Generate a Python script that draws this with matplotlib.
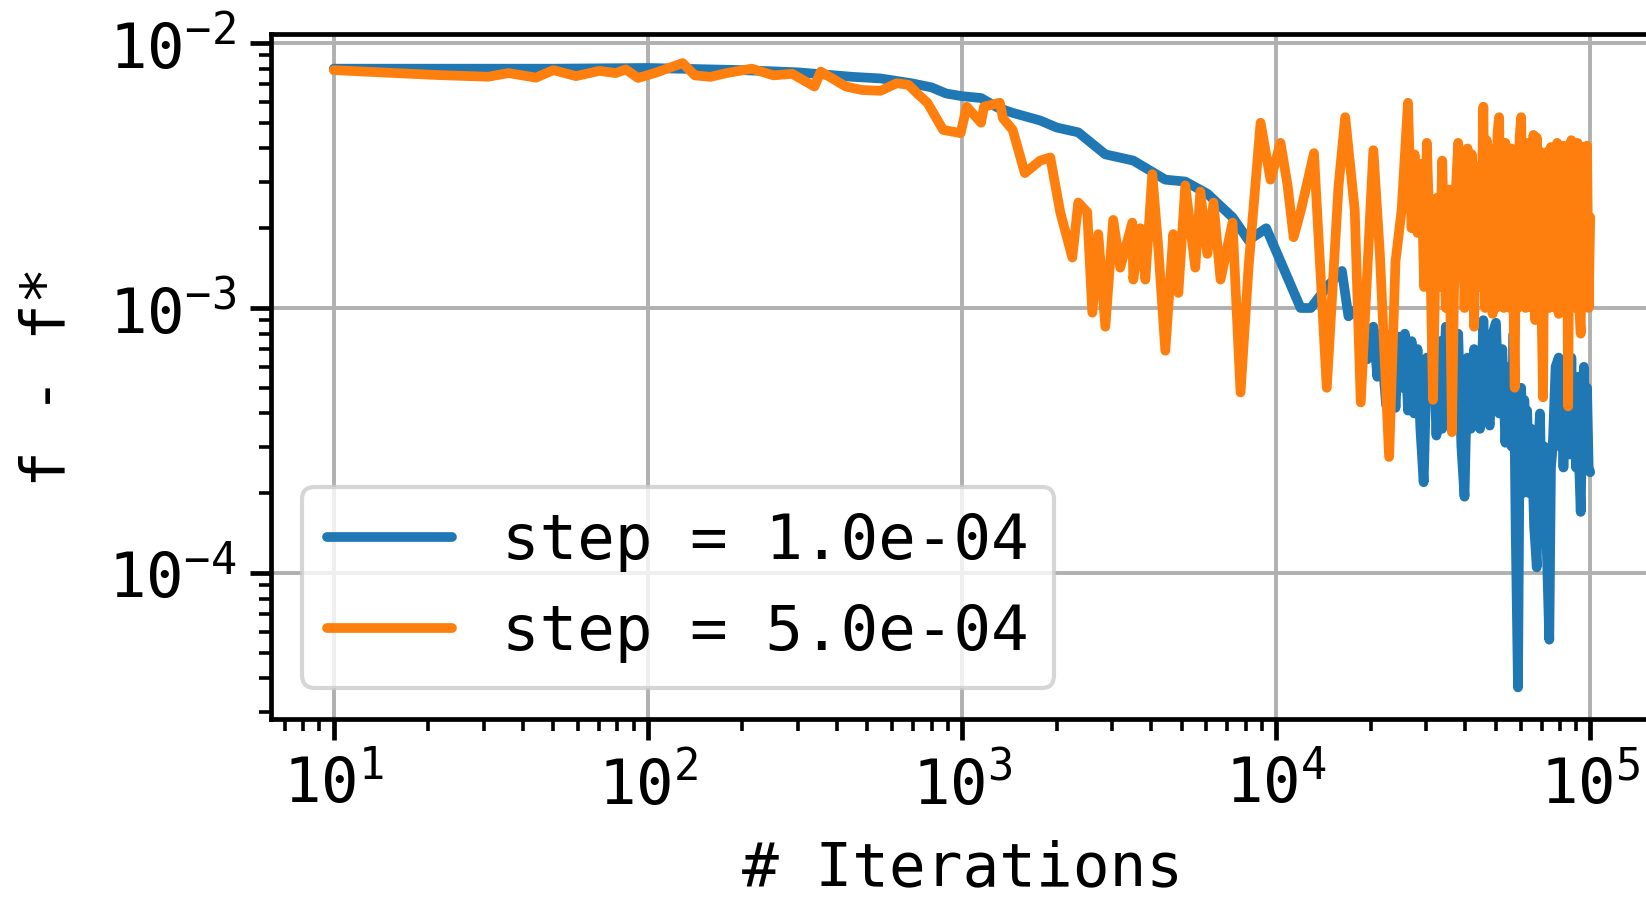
import numpy as np
import matplotlib
matplotlib.use("Agg")
import matplotlib.pyplot as plt

# ---------------------------------------------------------------------------
# data (iteration, f - f*)
# ---------------------------------------------------------------------------
blue_label = "step = 1.0e-04"
blue_x = [10, 20, 50, 100, 200, 300, 450, 550, 690, 800, 890, 1000, 1150,
          1300, 1450, 1774, 2000, 2345, 2860, 3510, 4440, 5140, 6040, 7265,
          8170, 9300, 10330, 11970, 12900, 14500, 16200, 17000, 18200,
          19500, 20400, 21000, 21500, 22400, 23300, 24000, 24600, 25100,
          25700, 26300, 27000, 27500, 28200, 28800, 29500, 30200, 31000,
          31600, 32400, 33100, 33800, 34700, 35500, 36300, 37200, 38000,
          38900, 39800, 40700, 41700, 42700, 43600, 44600, 45700, 46800,
          47900, 48900, 50100, 51300, 52500, 53700, 55000, 56200, 57000,
          57900, 58900, 59600, 60300, 61000, 61700, 62300, 63000, 64000,
          65000, 66300, 67600, 68400, 69200, 70300, 71500, 72800, 74100,
          75000, 76000, 77600, 79400, 80300, 81300, 82200, 83200, 84100,
          85100, 86100, 87100, 88100, 89100, 90100, 91200, 92300, 93300,
          94400, 95500, 96600, 97700, 98900, 100000]
blue_y = [8.0e-3, 8.0e-3, 8.0e-3, 8.05e-3, 7.9e-3, 7.75e-3, 7.45e-3, 7.35e-3,
          7.05e-3, 6.8e-3, 6.45e-3, 6.3e-3, 6.2e-3, 5.7e-3, 5.45e-3, 5.1e-3,
          4.8e-3, 4.6e-3, 3.8e-3, 3.6e-3, 3.05e-3, 3.0e-3, 2.7e-3, 2.2e-3,
          1.8e-3, 2.0e-3, 1.5e-3, 1.0e-3, 1.0e-3, 1.2e-3, 1.38e-3, 9.3e-4,
          1.0e-3, 6.4e-4, 8.5e-4, 5.5e-4, 8.0e-4, 4.3e-4, 8.0e-4, 4.2e-4,
          7.8e-4, 5.0e-4, 8.0e-4, 4.1e-4, 7.5e-4, 4.0e-4, 7.0e-4, 3.5e-4,
          2.2e-4, 6.5e-4, 4.8e-4, 8.0e-4, 3.3e-4, 7.5e-4, 3.5e-4, 8.5e-4,
          5.0e-4, 8.0e-4, 4.5e-4, 8.0e-4, 3.0e-4, 1.94e-4, 6.5e-4, 3.5e-4,
          7.0e-4, 5.8e-4, 3.5e-4, 9.0e-4, 4.0e-4, 3.6e-4, 8.0e-4, 8.8e-4,
          4.0e-4, 7.0e-4, 3.1e-4, 6.0e-4, 3.0e-4, 8.0e-4, 1.5e-4, 3.7e-5,
          3.0e-4, 5.0e-4, 2.0e-4, 4.5e-4, 2.5e-4, 4.1e-4, 2.0e-4, 3.5e-4,
          1.5e-4, 1.05e-4, 3.0e-4, 4.0e-4, 1.5e-4, 3.0e-4, 1.2e-4, 5.6e-5,
          2.5e-4, 3.0e-4, 6.0e-4, 6.5e-4, 3.0e-4, 5.0e-4, 2.5e-4, 5.5e-4,
          3.0e-4, 6.5e-4, 2.8e-4, 6.5e-4, 3.0e-4, 5.5e-4, 2.5e-4, 5.5e-4,
          2.5e-4, 1.7e-4, 4.5e-4, 6.0e-4, 3.0e-4, 5.0e-4, 2.5e-4, 2.4e-4]

orange_label = "step = 5.0e-04"
orange_x = [10, 21.4, 31, 36, 44, 50, 59, 70, 79, 85, 93, 105, 129, 141, 158,
            178, 214, 251, 288, 339, 355, 427, 479, 550, 620, 676, 720, 776,
            871, 990, 1035, 1150, 1175, 1320, 1350, 1450, 1585, 1774, 1910,
            2055, 2245, 2345, 2505, 2600, 2716, 2860, 3030, 3190, 3485, 3510,
            3695, 3835, 4035, 4215, 4440, 4705, 4885, 5140, 5530, 5740, 6040,
            6320, 6655, 7265, 7705, 8170, 8925, 9600, 10330, 10880, 11370,
            12000, 13200, 14500, 15800, 16600, 17800, 18600, 20400, 21400,
            22900, 24000, 25100, 26300, 27000, 27600, 28200, 29000, 29600,
            30200, 31000, 31600, 32400, 33100, 33800, 34700, 35500, 36300,
            37200, 38000, 38500, 39000, 39800, 40700, 41500, 42000, 42700,
            43600, 44600, 45700, 46300, 46800, 47900, 48400, 48900, 49500,
            50100, 50700, 51300, 51900, 52500, 53100, 53700, 54300, 55000,
            55600, 56200, 56800, 57500, 58200, 58900, 59600, 60300, 61000,
            61700, 62300, 63000, 63800, 64600, 65300, 66000, 66800, 67600,
            68400, 69200, 70000, 70800, 71600, 72500, 73300, 74100, 75000,
            75800, 76700, 77600, 78500, 79400, 80300, 81300, 82200, 83200,
            84100, 85100, 86000, 87100, 88100, 89100, 90100, 91200, 92300,
            93300, 94400, 95500, 96600, 97700, 98900, 100000]
orange_y = [7.9e-3, 7.57e-3, 7.46e-3, 7.7e-3, 7.4e-3, 7.9e-3, 7.5e-3, 7.85e-3,
            7.7e-3, 7.95e-3, 7.38e-3, 7.7e-3, 8.4e-3, 7.55e-3, 7.45e-3, 7.7e-3,
            8.0e-3, 7.55e-3, 7.65e-3, 6.85e-3, 7.8e-3, 6.85e-3, 6.65e-3,
            6.6e-3, 7.05e-3, 6.95e-3, 6.45e-3, 5.95e-3, 4.7e-3, 4.57e-3,
            5.75e-3, 5.0e-3, 5.75e-3, 5.95e-3, 5.2e-3, 4.7e-3, 3.23e-3,
            3.6e-3, 3.7e-3, 2.3e-3, 1.55e-3, 2.5e-3, 2.3e-3, 9.6e-4, 1.9e-3,
            8.5e-4, 2.15e-3, 1.42e-3, 2.1e-3, 1.28e-3, 2.0e-3, 1.28e-3, 3.2e-3,
            1.7e-3, 6.9e-4, 1.9e-3, 1.14e-3, 2.9e-3, 1.42e-3, 2.75e-3, 1.6e-3,
            2.5e-3, 1.28e-3, 2.1e-3, 4.8e-4, 1.42e-3, 5.0e-3, 3.05e-3, 4.2e-3,
            2.9e-3, 1.85e-3, 2.34e-3, 3.84e-3, 5.0e-4, 2.87e-3, 5.25e-3,
            2.34e-3, 4.4e-4, 3.94e-3, 1.6e-3, 2.74e-4, 1.5e-3, 2.34e-3,
            5.95e-3, 2.0e-3, 3.8e-3, 1.92e-3, 3.5e-3, 1.2e-3, 4.2e-3, 1.5e-3,
            4.5e-4, 2.6e-3, 1.2e-3, 3.6e-3, 1.0e-3, 2.8e-3, 3.4e-4, 2.5e-3,
            4.2e-3, 1.3e-3, 3.9e-3, 1.0e-3, 4.0e-3, 1.1e-3, 3.8e-3, 8.5e-4,
            3.4e-3, 1.2e-3, 5.75e-3, 1.0e-3, 4.3e-3, 1.1e-3, 4.0e-3, 9.5e-4,
            3.9e-3, 1.0e-3, 4.6e-3, 5.25e-3, 1.2e-3, 4.0e-3, 1.0e-3, 4.2e-3,
            1.3e-3, 3.8e-3, 1.0e-3, 4.0e-3, 1.4e-3, 5.0e-4, 3.6e-3, 1.0e-3,
            4.4e-3, 5.25e-3, 1.2e-3, 4.0e-3, 1.0e-3, 4.2e-3, 1.1e-3, 3.8e-3,
            1.0e-3, 4.5e-3, 9.0e-4, 4.4e-3, 1.2e-3, 3.9e-3, 1.0e-3, 4.6e-4,
            3.5e-3, 1.1e-3, 3.9e-3, 1.0e-3, 4.05e-3, 1.2e-3, 4.0e-3, 1.0e-3,
            4.2e-3, 9.5e-4, 3.9e-3, 1.0e-3, 4.1e-3, 1.14e-3, 4.0e-3, 4.25e-4,
            3.5e-3, 4.3e-3, 1.1e-3, 4.0e-3, 1.0e-3, 4.2e-3, 1.0e-3, 8.0e-4,
            3.8e-3, 4.05e-3, 1.1e-3, 4.1e-3, 1.0e-3, 2.2e-3]

# ---------------------------------------------------------------------------
# figure
# ---------------------------------------------------------------------------
plt.rcParams["font.family"] = ["DejaVu Sans Mono", "DejaVu Sans"]

fig = plt.figure(figsize=(16.46, 9.02), dpi=100)
# axes runs past the right edge, as in the cropped original
ax = fig.add_axes([271 / 1646, 1 - 719 / 902, 1382 / 1646, 685 / 902])

ax.plot(blue_x, blue_y, color="#1f77b4", lw=7, label=blue_label,
        solid_joinstyle="round", solid_capstyle="round")
ax.plot(orange_x, orange_y, color="#ff7f0e", lw=7, label=orange_label,
        solid_joinstyle="round", solid_capstyle="round")

ax.set_xscale("log")
ax.set_yscale("log")
ax.set_xlim(10 ** 0.8, 10 ** 5.2)
ax.set_ylim(10 ** -4.551, 10 ** -1.966)

ax.grid(True, which="major", color="#b0b0b0", linewidth=2.8)
ax.set_axisbelow(True)

for side in ax.spines.values():
    side.set_linewidth(3.4)

ax.tick_params(which="major", length=15, width=3.4, labelsize=45, pad=10)
ax.tick_params(which="minor", length=8.5, width=2.6)

ax.set_xlabel("# Iterations", fontsize=44, labelpad=16)
ax.set_ylabel("f - f*", fontsize=44, labelpad=22)

leg = ax.legend(loc="lower left", fontsize=45)
leg.get_frame().set_linewidth(3.0)

fig.savefig("out.png", dpi=100)
